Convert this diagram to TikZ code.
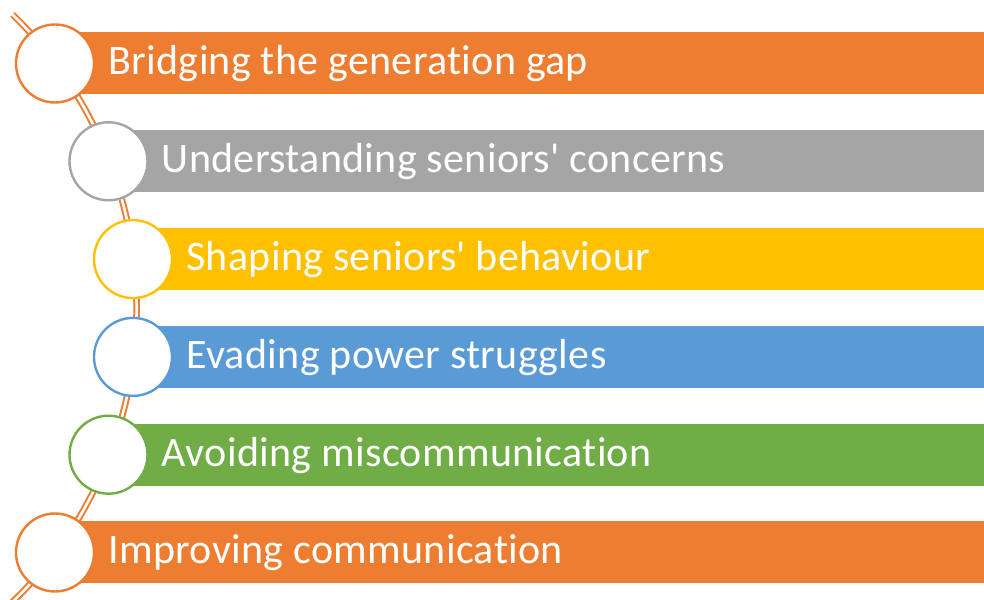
\documentclass[tikz,border=0pt]{standalone}
\usepackage{fontspec}
\setmainfont{Carlito}[Ligatures=NoCommon,LetterSpace=0.8]
\usepackage{tikz}
\usetikzlibrary{positioning}

\definecolor{accOrange}{HTML}{ED7D31}
\definecolor{accGray}{HTML}{A5A5A5}
\definecolor{accGold}{HTML}{FFC000}
\definecolor{accBlue}{HTML}{5B9BD5}
\definecolor{accGreen}{HTML}{70AD47}

\begin{document}
\begin{tikzpicture}[x=1pt,y=1pt,
  bar node/.style={rectangle,anchor=west,inner sep=0pt,minimum height=62pt},
  ring node/.style={circle,fill=white,draw,line width=2.4pt,minimum size=78pt,inner sep=0pt},
  text node/.style={anchor=west,text=white,inner sep=0pt,text height=23pt,text depth=0pt,
    font=\fontsize{42}{50}\selectfont},
  rail/.style={draw=accOrange,line width=2pt,double=white,double distance=2.6pt}]

  \useasboundingbox (0,0) rectangle (984,599);
  \clip (0,0) rectangle (984,599);

  % bars
  \node[bar node,fill=accOrange,minimum width=929pt] (b1) at (55,535.5) {};
  \node[bar node,fill=accGray,minimum width=875.5pt] (b2) at (108.5,437.7) {};
  \node[bar node,fill=accGold,minimum width=851pt] (b3) at (133,339.9) {};
  \node[bar node,fill=accBlue,minimum width=851pt] (b4) at (133,242.1) {};
  \node[bar node,fill=accGreen,minimum width=875.5pt] (b5) at (108.5,144.3) {};
  \node[bar node,fill=accOrange,minimum width=929pt] (b6) at (55,46.5) {};

  % the rail behind the rings
  \coordinate (top) at (12.5,584.5);
  \path[rail] (top) arc[start angle=45.8,end angle=-47,radius=409.8];

  % rings
  \node[ring node,draw=accOrange] (c1) at (b1.west) {};
  \node[ring node,draw=accGray] (c2) at (b2.west) {};
  \node[ring node,draw=accGold] (c3) at (b3.west) {};
  \node[ring node,draw=accBlue] (c4) at (b4.west) {};
  \node[ring node,draw=accGreen] (c5) at (b5.west) {};
  \node[ring node,draw=accOrange] (c6) at (b6.west) {};

  % labels
  \node[text node] (t1) [right=13pt of c1] {Bridging the generation gap};
  \node[text node] (t2) [right=13pt of c2] {Understanding seniors\textquotesingle{} concerns};
  \node[text node] (t3) [right=13pt of c3] {Shaping seniors\textquotesingle{} behaviour};
  \node[text node] (t4) [right=13pt of c4] {Evading power struggles};
  \node[text node] (t5) [right=13pt of c5] {Avoiding miscommunication};
  \node[text node] (t6) [right=13pt of c6] {Improving communication};

\end{tikzpicture}
\end{document}
